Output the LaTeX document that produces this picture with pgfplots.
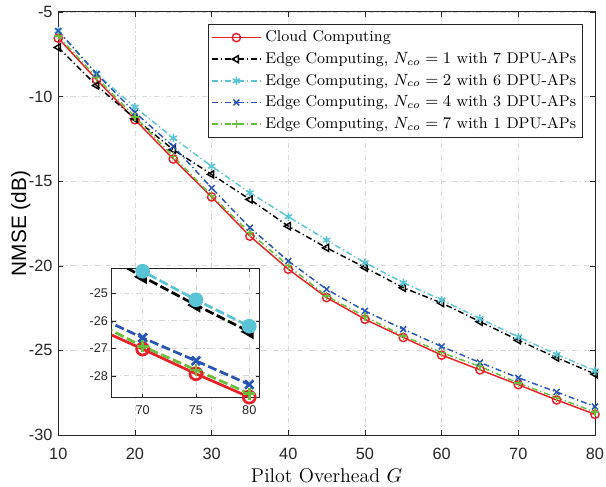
\documentclass[border=0pt]{standalone}
\usepackage{pgfplots}
\pgfplotsset{compat=1.18}
\usepackage{fontspec}
\newfontfamily\arial{Liberation Sans}
\definecolor{cred}{RGB}{232,32,40}
\definecolor{ccyan}{RGB}{88,196,214}
\definecolor{cblue}{RGB}{40,84,180}
\definecolor{cgreen}{RGB}{104,190,58}
\definecolor{axgray}{RGB}{38,38,38}
\pgfplotstableread{
x red green blue cyan black
10 -6.55 -6.42 -6.12 -6.12 -7.10
15 -9.00 -8.87 -8.66 -8.66 -9.35
20 -11.37 -11.20 -10.94 -10.62 -11.30
25 -13.69 -13.53 -12.94 -12.45 -13.14
30 -15.93 -15.85 -15.40 -14.12 -14.60
35 -18.25 -18.05 -17.75 -15.69 -16.08
40 -20.20 -20.00 -19.72 -17.10 -17.66
45 -21.88 -21.79 -21.39 -18.48 -18.94
50 -23.16 -23.00 -22.67 -19.82 -20.10
55 -24.24 -24.14 -23.75 -21.00 -21.30
60 -25.28 -25.13 -24.77 -22.02 -22.20
65 -26.15 -25.95 -25.72 -23.12 -23.30
70 -27.03 -26.93 -26.62 -24.20 -24.40
75 -27.93 -27.79 -27.46 -25.24 -25.43
80 -28.78 -28.65 -28.32 -26.20 -26.40
}\data
\tikzset{dashdot/.style={dash pattern=on 3.3pt off 1.6pt on 0.7pt off 1.6pt}}
\begin{document}
\begin{tikzpicture}
\useasboundingbox (-32.2pt,-28.7pt) rectangle (302.6pt,240.3pt);
\begin{axis}[
  scale only axis, width=296.5pt, height=233.7pt,
  xmin=10, xmax=80, ymin=-30, ymax=-5,
  xtick={10,20,...,80}, ytick={-30,-25,...,-5},
  yticklabels={-30,-25,-20,-15,-10,-5},
  /pgf/number format/assume math mode=true,
  tick label style={font=\arial\fontsize{9}{11}\selectfont, text=axgray},
  xticklabel style={anchor=center, yshift=-10.6pt},
  yticklabel style={anchor=east, inner sep=0pt, xshift=-3pt},
  axis line style={axgray, line width=0.5pt},
  major tick style={axgray}, major tick length=2.8pt,
  tick align=inside, xtick pos=both, ytick pos=both,
  grid=major, grid style={gray!30, dash pattern=on 3pt off 1.5pt on 0.6pt off 1.5pt, line width=0.4pt},
  xlabel={Pilot Overhead $G$},
  xlabel style={font=\fontsize{11}{13}\selectfont, at={(axis description cs:0.5,-0.1113)}, anchor=base},
  ylabel={NMSE (dB)},
  ylabel style={font=\arial\fontsize{11.5}{13}\selectfont, at={(axis description cs:-0.0597,0.5)}, anchor=base},
  legend style={at={(0.9776,0.9716)}, anchor=north east, draw=axgray, line width=0.5pt,
    font=\fontsize{8.6}{10}\selectfont, inner sep=1.5pt, row sep=0.3pt},
  legend cell align=left,
  legend image code/.code={\draw[mark repeat=2,mark phase=2] plot coordinates {(0cm,0cm) (0.48cm,0cm) (0.96cm,0cm)};},
  every axis plot/.append style={line width=0.8pt, mark size=2.3pt},
]
\addplot[cred, solid, mark=o, mark options={solid}] table[x=x,y=red] {\data};
\addlegendentry{Cloud Computing}
\addplot[black, dashdot, mark=triangle, mark options={solid, rotate=90}] table[x=x,y=black] {\data};
\addlegendentry{Edge Computing, $N_{co}=1$ with 7 DPU-APs}
\addplot[ccyan, dashdot, mark=asterisk, mark options={solid}] table[x=x,y=cyan] {\data};
\addlegendentry{Edge Computing, $N_{co}=2$ with 6 DPU-APs}
\addplot[cblue, dashdot, mark=x, mark options={solid}] table[x=x,y=blue] {\data};
\addlegendentry{Edge Computing, $N_{co}=4$ with 3 DPU-APs}
\addplot[cgreen, dashdot, mark=+, mark options={solid}] table[x=x,y=green] {\data};
\addlegendentry{Edge Computing, $N_{co}=7$ with 1 DPU-APs}
\end{axis}
\begin{axis}[
  at={(29.5pt,20.6pt)}, anchor=south west,
  scale only axis, width=81.9pt, height=71.5pt,
  xmin=67.1, xmax=81, ymin=-28.8, ymax=-24.09,
  xtick={70,75,80}, ytick={-28,-27,-26,-25},
  yticklabels={-28,-27,-26,-25},
  /pgf/number format/assume math mode=true,
  tick label style={font=\arial\fontsize{7}{8.5}\selectfont, text=axgray},
  xticklabel style={anchor=center, yshift=-6.8pt},
  yticklabel style={anchor=east, inner sep=0pt, xshift=-1.9pt},
  axis line style={axgray, line width=0.5pt},
  major tick style={axgray}, major tick length=2.2pt,
  tick align=inside, xtick pos=both, ytick pos=both,
  grid=major, grid style={gray!30, dash pattern=on 3pt off 1.5pt on 0.6pt off 1.5pt, line width=0.4pt},
  axis background/.style={fill=white},
  every axis plot/.append style={line width=1.5pt, mark size=3.3pt},
]
\addplot[cred, solid, mark=o, mark options={solid}] table[x=x,y=red] {\data};
\addplot[black, dash pattern=on 5pt off 2pt, mark=triangle*, mark options={solid, rotate=90}] table[x=x,y=black] {\data};
\addplot[ccyan, dash pattern=on 5pt off 2pt, mark=*, mark options={solid}] table[x=x,y=cyan] {\data};
\addplot[cblue, dash pattern=on 5pt off 2pt, mark=x, mark options={solid}] table[x=x,y=blue] {\data};
\addplot[cgreen, dash pattern=on 5pt off 2pt, mark=+, mark options={solid}] table[x=x,y=green] {\data};
\end{axis}
\end{tikzpicture}
\end{document}
